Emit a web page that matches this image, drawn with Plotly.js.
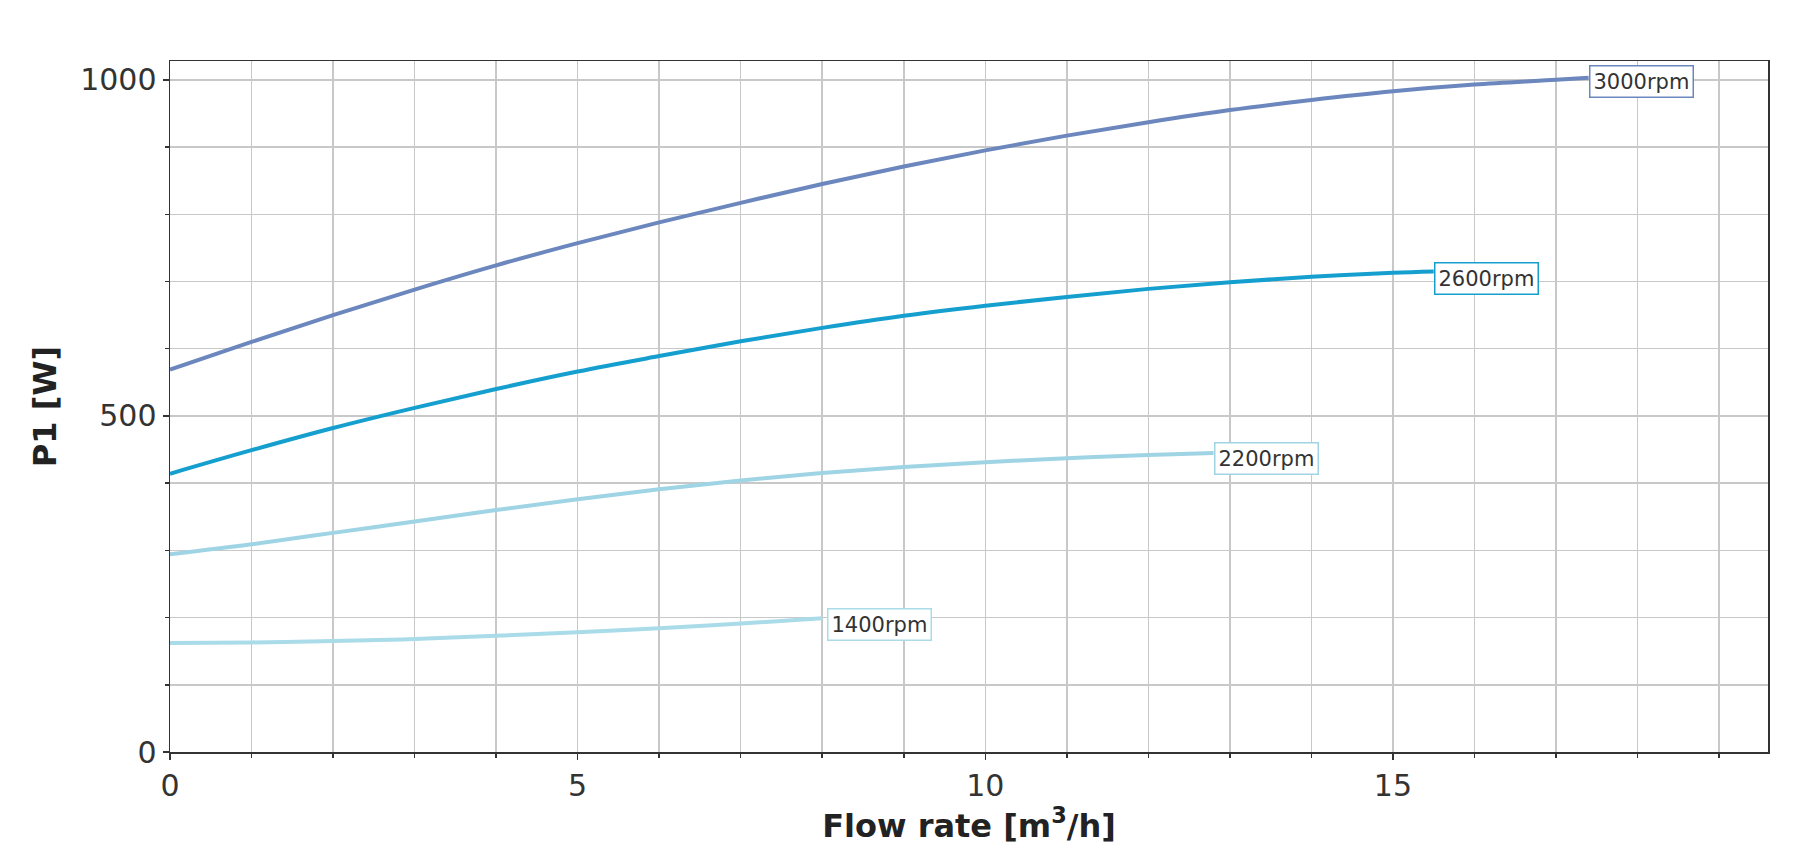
<!DOCTYPE html>
<html>
<head>
<meta charset="utf-8">
<script src="https://cdn.plot.ly/plotly-3.0.1.min.js"></script>
<style>
  html, body { margin: 0; padding: 0; background: #ffffff; }
  #grafico { width: 1813px; height: 851px; }
</style>
</head>
<body>
<div id="grafico"></div>
<script>
// curve data: flow [m3/h] -> P1 [W]
var q3000 = [0, 1, 2, 3, 4, 5, 6, 7, 8, 9, 10, 11, 12, 13, 14, 15, 16, 17, 17.4];
var p3000 = [569, 610, 650, 688, 724, 757, 788, 817, 845, 871, 895, 917, 937, 955, 970, 983, 993, 1000, 1003];

var q2600 = [0, 1, 2, 3, 4, 5, 6, 7, 8, 9, 10, 11, 12, 13, 14, 15, 15.5];
var p2600 = [414, 449, 482, 512, 540, 566, 589, 611, 631, 649, 664, 677, 689, 699, 707, 713, 715];

var q2200 = [0, 1, 2, 3, 4, 5, 6, 7, 8, 9, 10, 11, 12, 12.8];
var p2200 = [294, 309, 326, 343, 360, 376, 391, 404, 415, 424, 431, 437, 442, 445];

var q1400 = [0, 1, 2, 3, 4, 5, 6, 7, 8];
var p1400 = [162, 163, 165, 168, 173, 178, 184, 191, 199];

var curvas = [
    { nome: '3000rpm', x: q3000, y: p3000, cor: '#6b87bd', lx: 18.05, ly: 997 },
    { nome: '2600rpm', x: q2600, y: p2600, cor: '#159fcf', lx: 16.15, ly: 705 },
    { nome: '2200rpm', x: q2200, y: p2200, cor: '#9fd4e4', lx: 13.45, ly: 437 },
    { nome: '1400rpm', x: q1400, y: p1400, cor: '#a9dbe8', lx: 8.7, ly: 190 }
];

var traces = curvas.map(function(c) {
    return {
        x: c.x, y: c.y, type: 'scatter', mode: 'lines', name: c.nome,
        line: { color: c.cor, width: 4, shape: 'spline', smoothing: 1 },
        hoverinfo: 'skip'
    };
});

var rotulos = curvas.map(function(c) {
    return {
        x: c.lx, y: c.ly, xref: 'x', yref: 'y', text: c.nome, showarrow: false,
        font: { family: 'DejaVu Sans', size: 21, color: '#333333' },
        bgcolor: '#ffffff', bordercolor: c.cor, borderwidth: 1.5, borderpad: 3
    };
});

var eixoBase = {
    showline: true, mirror: true, linecolor: '#333333', linewidth: 1.5,
    showgrid: true, gridcolor: '#c8c8c8', gridwidth: 1.5,
    zeroline: false,
    ticks: 'outside', ticklen: 6, tickwidth: 1.5, tickcolor: '#333333',
    tickfont: { family: 'DejaVu Sans', size: 30, color: '#333333' }
};

var layout = {
    width: 1813, height: 851,
    paper_bgcolor: '#ffffff', plot_bgcolor: '#ffffff',
    showlegend: false,
    margin: { t: 61, r: 45, b: 99, l: 170 },
    xaxis: Object.assign({}, eixoBase, {
        range: [0, 19.6], tick0: 0, dtick: 5,
        minor: { dtick: 1, showgrid: true, gridcolor: '#c8c8c8', gridwidth: 1.5, ticks: 'outside', ticklen: 4, tickcolor: '#333333' },
        title: { text: '<b>Flow rate [m<sup>3</sup>/h]</b>', font: { family: 'DejaVu Sans', size: 32, color: '#222222' }, standoff: 4 }
    }),
    yaxis: Object.assign({}, eixoBase, {
        range: [0, 1028], tick0: 0, dtick: 500,
        minor: { dtick: 100, showgrid: true, gridcolor: '#c8c8c8', gridwidth: 1.5, ticks: 'outside', ticklen: 4, tickcolor: '#333333' },
        title: { text: '<b>P1 [W]</b>', font: { family: 'DejaVu Sans', size: 32, color: '#222222' }, standoff: 14 }
    }),
    annotations: rotulos
};

Plotly.newPlot('grafico', traces, layout, { displayModeBar: false, staticPlot: true });
</script>
</body>
</html>
